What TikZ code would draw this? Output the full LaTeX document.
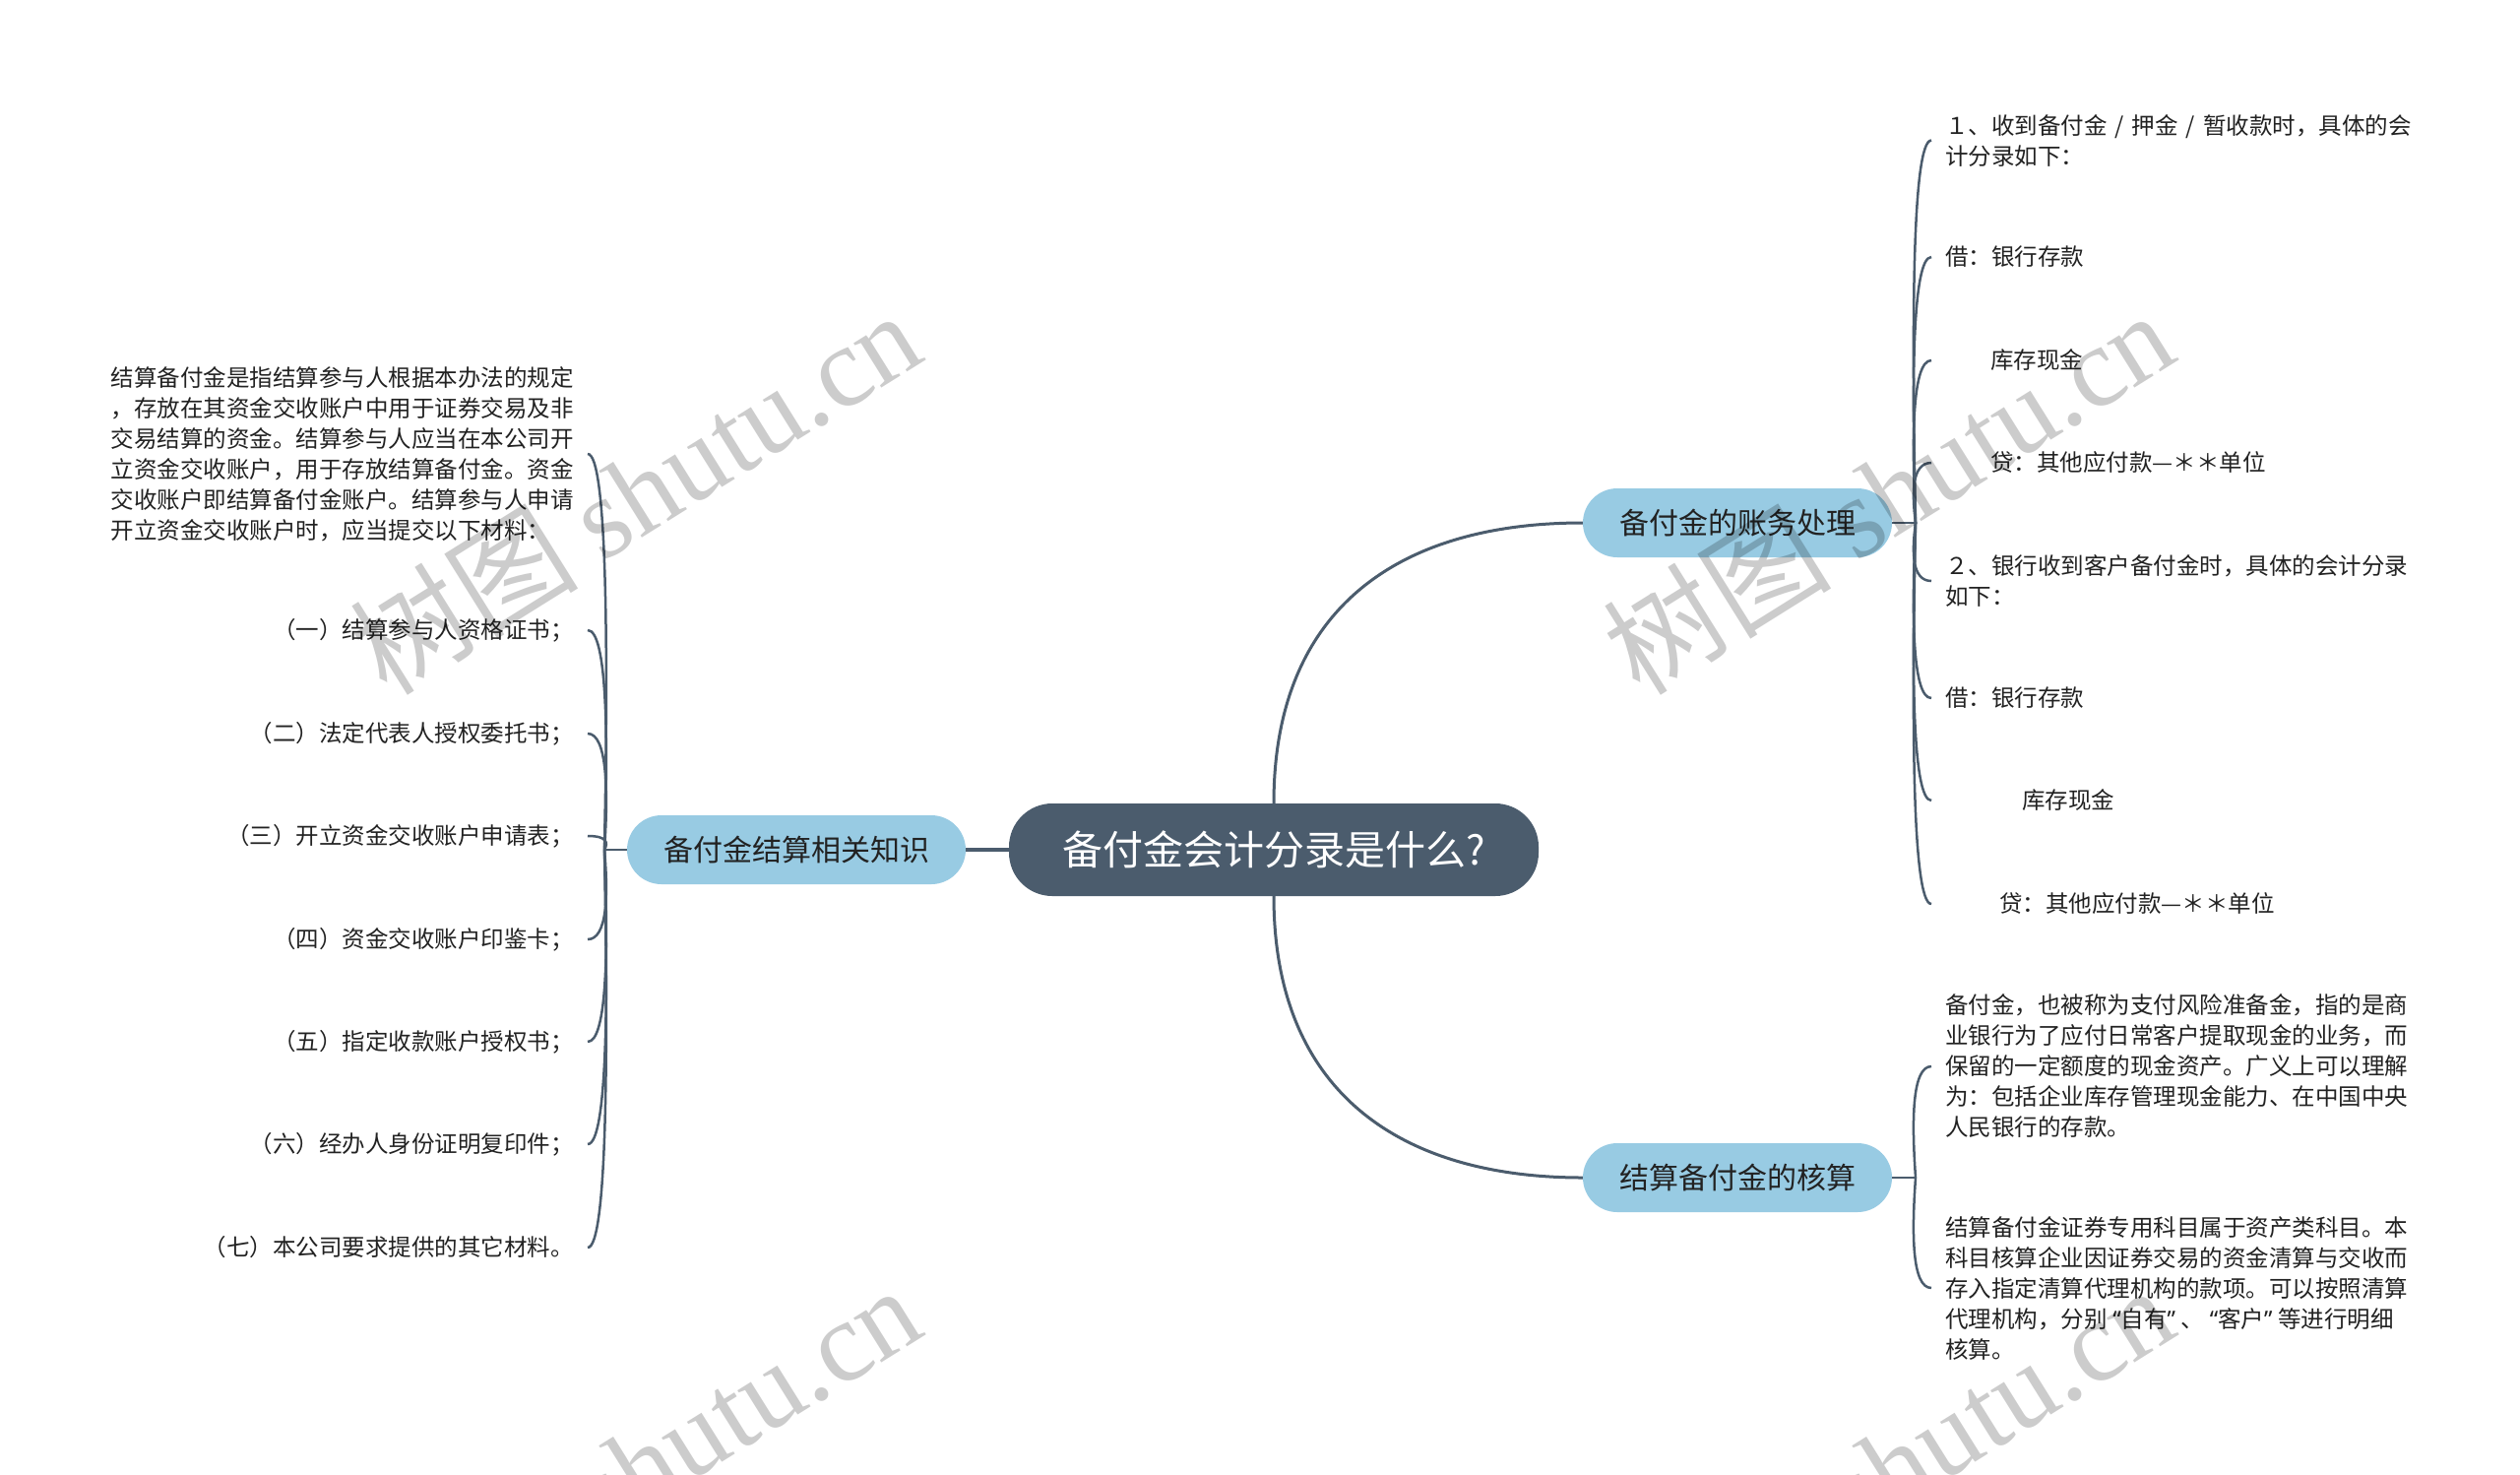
\documentclass[tikz,border=0pt]{standalone}
\usepackage{fontspec}
\setmainfont{Noto Sans CJK SC}
\newfontfamily\wmlatin{Liberation Serif}
\newfontfamily\qfont{Noto Sans}
\usetikzlibrary{calc}
\definecolor{rootfill}{HTML}{4B5C6D}
\definecolor{branchfill}{HTML}{98CBE3}
\definecolor{linec}{HTML}{4B5C6D}
\definecolor{txt}{HTML}{222222}
\newcommand{\myoq}{\makebox[14pt][r]{\qfont “}}
\newcommand{\mycq}{\makebox[14pt][l]{\qfont ”}}
\newcommand{\myslash}{\hspace{8pt}/\hspace{8pt}}
\begin{document}
\begin{tikzpicture}[x=1pt,y=-1pt,
  rootbox/.style={fill=rootfill, rounded corners=44pt, minimum width=538pt, minimum height=94pt,
    text=white, font=\fontsize{41}{48}\selectfont, inner sep=0pt},
  branchbox/.style={fill=branchfill, rounded corners=35pt, minimum width=314pt, minimum height=70pt,
    text=txt, font=\fontsize{30}{36}\selectfont, inner sep=0pt},
  childR/.style={anchor=west, align=left, inner xsep=14pt, inner ysep=3pt, text=txt,
    font=\fontsize{23.5}{31}\selectfont},
  childL/.style={anchor=east, align=right, inner xsep=14pt, inner ysep=3pt, text=txt,
    font=\fontsize{23.5}{31}\selectfont},
  conn/.style={draw=linec, line width=3pt},
  sub/.style={draw=linec, line width=2.5pt},
  wm/.style={rotate=32, text=black, opacity=0.2, font=\fontsize{116}{116}\selectfont, inner sep=0pt}]
\useasboundingbox (0,0) rectangle (2560,1497);
\fill[white] (0,0) rectangle (2560,1497);

% main nodes
\node[rootbox] (root) at (1294,863) {备付金会计分录是什么?};
\node[branchbox] (acct) at (1765,531) {备付金的账务处理};
\node[branchbox] (calc) at (1765,1196) {结算备付金的核算};
\node[branchbox, minimum width=344pt] (know) at (809,863) {备付金结算相关知识};

% junctions
\coordinate (jA) at (1946,531);
\coordinate (jC) at (1946,1196);
\coordinate (jK) at (614,863);

% right-top children
\node[childR] (a1) at (1962,142.5) {１、收到备付金\myslash 押金\myslash 暂收款时，具体的会\\计分录如下：};
\node[childR] (a2) at (1962,261) {借：银行存款};
\node[childR] (a3) at (1962,366) {\hspace*{46pt}库存现金};
\node[childR] (a4) at (1962,470) {\hspace*{46pt}贷：其他应付款—＊＊单位};
\node[childR] (a5) at (1962,590) {２、银行收到客户备付金时，具体的会计分录\\如下：};
\node[childR] (a6) at (1962,709) {借：银行存款};
\node[childR] (a7) at (1962,813) {\hspace*{78pt}库存现金};
\node[childR] (a8) at (1962,918) {\hspace*{55pt}贷：其他应付款—＊＊单位};

% right-bottom children
\node[childR] (c1) at (1962,1083) {备付金，也被称为支付风险准备金，指的是商\\业银行为了应付日常客户提取现金的业务，而\\保留的一定额度的现金资产。广义上可以理解\\为：包括企业库存管理现金能力、在中国中央\\人民银行的存款。};
\node[childR] (c2) at (1962,1308) {结算备付金证券专用科目属于资产类科目。本\\科目核算企业因证券交易的资金清算与交收而\\存入指定清算代理机构的款项。可以按照清算\\代理机构，分别\myoq 自有\mycq 、\myoq 客户\mycq 等进行明细\\核算。};

% left children
\node[childL, align=left] (k0) at (597,461) {结算备付金是指结算参与人根据本办法的规定\\，存放在其资金交收账户中用于证券交易及非\\交易结算的资金。结算参与人应当在本公司开\\立资金交收账户，用于存放结算备付金。资金\\交收账户即结算备付金账户。结算参与人申请\\开立资金交收账户时，应当提交以下材料：};
\node[childL] (k1) at (597,640) {（一）结算参与人资格证书；};
\node[childL] (k2) at (597,745) {（二）法定代表人授权委托书；};
\node[childL] (k3) at (597,849) {（三）开立资金交收账户申请表；};
\node[childL] (k4) at (597,954) {（四）资金交收账户印鉴卡；};
\node[childL] (k5) at (597,1058) {（五）指定收款账户授权书；};
\node[childL] (k6) at (597,1162) {（六）经办人身份证明复印件；};
\node[childL] (k7) at (597,1267) {（七）本公司要求提供的其它材料。};

% main connectors
\draw[conn] (root.north) .. controls +(0,-197) and +(-188,0) .. (acct.west);
\draw[conn] (root.south) .. controls +(0,197) and +(-188,0) .. (calc.west);
\draw[conn, line width=3.5pt] (root.west) -- (know.east);

% stubs
\draw[sub] (acct.east) -- (jA);
\draw[sub] (calc.east) -- (jC);
\draw[sub] (know.west) -- (jK);

% child connectors
\foreach \n in {a1,a2,a3,a4,a5,a6,a7,a8}{
  \draw[sub] (jA) .. controls ($(jA)!0.5!(jA|-\n.west)+(-4,0)$) and ($(\n.west)+(-20,0)$) .. (\n.west);
}
\foreach \n in {c1,c2}{
  \draw[sub] (jC) .. controls ($(jC)!0.5!(jC|-\n.west)+(-4,0)$) and ($(\n.west)+(-20,0)$) .. (\n.west);
}
\foreach \n in {k0,k1,k2,k3,k4,k5,k6,k7}{
  \draw[sub] (jK) .. controls ($(jK)!0.5!(jK|-\n.east)+(4,0)$) and ($(\n.east)+(20,0)$) .. (\n.east);
}

% watermarks
\node[wm] (wm1) at (645,499) {树图 {\wmlatin shutu.cn}};
\node[wm] (wm2) at (1918,499) {树图 {\wmlatin shutu.cn}};
\node[wm] (wm3) at (645,1489) {树图 {\wmlatin shutu.cn}};
\node[wm] (wm4) at (1918,1489) {树图 {\wmlatin shutu.cn}};
\end{tikzpicture}
\end{document}
